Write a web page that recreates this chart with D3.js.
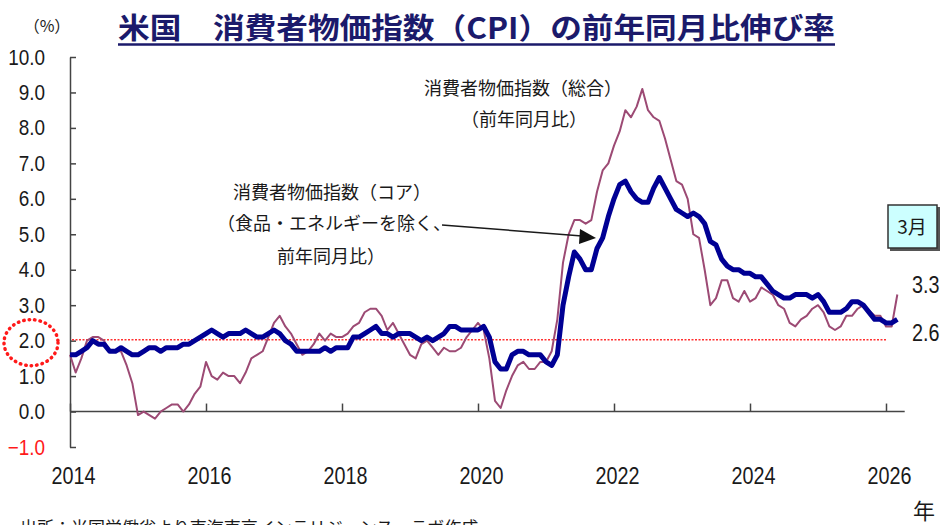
<!DOCTYPE html>
<html>
<head>
<meta charset="utf-8">
<script src="https://cdn.jsdelivr.net/npm/d3@7"></script>
<style>
  body { margin: 0; background: #fff; }
  .num { font-family: "Liberation Sans", Arial, sans-serif; }
  .jp { font-family: "Noto Sans CJK JP", sans-serif; }
</style>
</head>
<body>
<div class="card"></div>
<script>
// months from 2014-01 to 2026-03, Oct 2025 not published
var startYear = 2014;
var headline = [
  1.6, 1.1, 1.5, 2.0, 2.1, 2.1, 2.0, 1.7, 1.7, 1.7, 1.3, 0.8,
  -0.1, 0.0, -0.1, -0.2, 0.0, 0.1, 0.2, 0.2, 0.0, 0.2, 0.5, 0.7,
  1.4, 1.0, 0.9, 1.1, 1.0, 1.0, 0.8, 1.1, 1.5, 1.6, 1.7, 2.1,
  2.5, 2.7, 2.4, 2.2, 1.9, 1.6, 1.7, 1.9, 2.2, 2.0, 2.2, 2.1,
  2.1, 2.2, 2.4, 2.5, 2.8, 2.9, 2.9, 2.7, 2.3, 2.5, 2.2, 1.9,
  1.6, 1.5, 1.9, 2.0, 1.8, 1.6, 1.8, 1.7, 1.7, 1.8, 2.1, 2.3,
  2.5, 2.3, 1.5, 0.3, 0.1, 0.6, 1.0, 1.3, 1.4, 1.2, 1.2, 1.4,
  1.4, 1.7, 2.6, 4.2, 5.0, 5.4, 5.4, 5.3, 5.4, 6.2, 6.8, 7.0,
  7.5, 7.9, 8.5, 8.3, 8.6, 9.1, 8.5, 8.3, 8.2, 7.7, 7.1, 6.5,
  6.4, 6.0, 5.0, 4.9, 4.0, 3.0, 3.2, 3.7, 3.7, 3.2, 3.1, 3.4,
  3.1, 3.2, 3.5, 3.4, 3.3, 3.0, 2.9, 2.5, 2.4, 2.6, 2.7, 2.9,
  3.0, 2.8, 2.4, 2.3, 2.4, 2.7, 2.7, 2.9, 3.0, null, 2.7, 2.7,
  2.4, 2.4, 3.3
];
var core = [
  1.6, 1.6, 1.7, 1.8, 2.0, 1.9, 1.9, 1.7, 1.7, 1.8, 1.7, 1.6,
  1.6, 1.7, 1.8, 1.8, 1.7, 1.8, 1.8, 1.8, 1.9, 1.9, 2.0, 2.1,
  2.2, 2.3, 2.2, 2.1, 2.2, 2.2, 2.2, 2.3, 2.2, 2.1, 2.1, 2.2,
  2.3, 2.2, 2.0, 1.9, 1.7, 1.7, 1.7, 1.7, 1.7, 1.8, 1.7, 1.8,
  1.8, 1.8, 2.1, 2.1, 2.2, 2.3, 2.4, 2.2, 2.2, 2.1, 2.2, 2.2,
  2.2, 2.1, 2.0, 2.1, 2.0, 2.1, 2.2, 2.4, 2.4, 2.3, 2.3, 2.3,
  2.3, 2.4, 2.1, 1.4, 1.2, 1.2, 1.6, 1.7, 1.7, 1.6, 1.6, 1.6,
  1.4, 1.3, 1.6, 3.0, 3.8, 4.5, 4.3, 4.0, 4.0, 4.6, 4.9, 5.5,
  6.0, 6.4, 6.5, 6.2, 6.0, 5.9, 5.9, 6.3, 6.6, 6.3, 6.0, 5.7,
  5.6, 5.5, 5.6, 5.5, 5.3, 4.8, 4.7, 4.3, 4.1, 4.0, 4.0, 3.9,
  3.9, 3.8, 3.8, 3.6, 3.4, 3.3, 3.2, 3.2, 3.3, 3.3, 3.3, 3.2,
  3.3, 3.1, 2.8, 2.8, 2.8, 2.9, 3.1, 3.1, 3.0, null, 2.6, 2.6,
  2.5, 2.5, 2.6
];
var yTicks = [-1, 0, 1, 2, 3, 4, 5, 6, 7, 8, 9, 10];
var yearTicks = [2014, 2016, 2018, 2020, 2022, 2024, 2026];
var target = 2.0;

var width = 941,
    height = 525,
    squeeze = 0.86; // numbers in the original are set in a narrow face

var svg = d3.select(".card").append("svg")
    .attr("width", width)
    .attr("height", height);

// month index -> px
var x = d3.scaleLinear().domain([0, 144]).range([70, 886]);
var y = d3.scaleLinear().domain([-1, 10]).range([447, 57]);

// title
svg.append("text").attr("class", "jp")
    .attr("x", 47).attr("y", 32)
    .attr("text-anchor", "middle")
    .style("font-size", "16px").attr("fill", "#222")
    .text("（%）");

svg.append("text").attr("class", "jp")
    .attr("x", 118).attr("y", 39)
    .attr("textLength", 717).attr("lengthAdjust", "spacingAndGlyphs")
    .style("font-size", "29px").style("font-weight", "bold")
    .attr("fill", "#1b1a6b")
    .text("米国　消費者物価指数（CPI）の前年同月比伸び率");

svg.append("line")
    .attr("x1", 118).attr("x2", 835)
    .attr("y1", 44.5).attr("y2", 44.5)
    .attr("stroke", "#1b1a6b").attr("stroke-width", 2.5);

// y axis
var yAxis = d3.axisLeft(y)
    .tickValues(yTicks)
    .tickSizeInner(-6)
    .tickSizeOuter(0)
    .tickPadding(25)
    .tickFormat(d3.format(".1f"));

var gy = svg.append("g")
    .attr("transform", "translate(" + x(0) + ",0)")
    .call(yAxis);
gy.select(".domain").attr("stroke", "#444").attr("stroke-width", 1.5);
gy.selectAll(".tick line").attr("stroke", "#444").attr("stroke-width", 1.5);
gy.selectAll(".tick text")
    .attr("class", "num")
    .attr("x", -25 / squeeze)
    .attr("transform", "scale(" + squeeze + ",1)")
    .style("font-size", "22px")
    .attr("fill", function(d) { return d < 0 ? "#ff1a1a" : "#1a1a1a"; })
    .text(function(d) { return d < 0 ? "\u2212" + Math.abs(d).toFixed(1) : d.toFixed(1); });

// x axis on the zero line
var xAxis = d3.axisBottom(x)
    .tickValues(yearTicks.map(function(yr) { return (yr - startYear) * 12; }))
    .tickSizeInner(-8)
    .tickSizeOuter(0)
    .tickPadding(56)
    .tickFormat(function(i) { return startYear + i / 12; });

var gx = svg.append("g")
    .attr("transform", "translate(0," + y(0) + ")")
    .call(xAxis);
gx.select(".domain").remove();
gx.selectAll(".tick line").attr("stroke", "#444").attr("stroke-width", 1.5);
gx.selectAll(".tick text")
    .attr("class", "num")
    .attr("dx", 3 / squeeze)
    .attr("transform", "scale(" + squeeze + ",1)")
    .style("font-size", "23px")
    .attr("fill", "#1a1a1a");

svg.append("line")
    .attr("x1", x(0)).attr("x2", x(147.3))
    .attr("y1", y(0)).attr("y2", y(0))
    .attr("stroke", "#444").attr("stroke-width", 1.5);

// 2% line
svg.append("line")
    .attr("x1", x(0) + 2).attr("x2", x(144))
    .attr("y1", y(target) - 1).attr("y2", y(target) - 1)
    .attr("stroke", "#ff3030").attr("stroke-width", 1.5)
    .attr("stroke-dasharray", "2,1.5");

// dotted ring around 2.0
svg.append("ellipse")
    .attr("cx", 31).attr("cy", y(target) + 2)
    .attr("rx", 27).attr("ry", 23)
    .attr("fill", "none")
    .attr("stroke", "#ff1a1a").attr("stroke-width", 3.5)
    .attr("stroke-linecap", "round")
    .attr("stroke-dasharray", "0.5,5");

// series
var line = d3.line()
    .x(function(d) { return x(d.i); })
    .y(function(d) { return y(d.v); });

var toPoints = function(arr) {
    return arr.map(function(v, i) { return { i: i, v: v }; })
        .filter(function(d) { return d.v != null; });
};

svg.append("path")
    .datum(toPoints(headline))
    .attr("d", line)
    .attr("fill", "none")
    .attr("stroke", "#9c4a74")
    .attr("stroke-width", 2)
    .attr("stroke-linejoin", "round");

svg.append("path")
    .datum(toPoints(core))
    .attr("d", line)
    .attr("fill", "none")
    .attr("stroke", "#000094")
    .attr("stroke-width", 5)
    .attr("stroke-linejoin", "round");

// annotations
var note = function(tx, ty, s) {
    svg.append("text").attr("class", "jp")
        .attr("x", tx).attr("y", ty)
        .attr("text-anchor", "middle")
        .attr("dy", "0.35em")
        .style("font-size", "18px")
        .attr("fill", "#1a1a1a")
        .text(s);
};
note(523, 89, "消費者物価指数（総合）");
note(524, 120, "（前年同月比）");
note(332, 193, "消費者物価指数（コア）");
note(334, 224, "（食品・エネルギーを除く、");
note(331, 257, "前年同月比）");

svg.append("line")
    .attr("x1", 442).attr("y1", 225)
    .attr("x2", 582).attr("y2", 236)
    .attr("stroke", "#1a1a1a").attr("stroke-width", 1.5);
svg.append("path")
    .attr("d", "M596,238L580,229L579,244Z")
    .attr("fill", "#111");

// latest month box
var last = headline.length - 1;
svg.append("rect")
    .attr("x", 890).attr("y", 207).attr("width", 50).attr("height", 44)
    .attr("fill", "#555");
svg.append("rect")
    .attr("x", 888).attr("y", 205).attr("width", 49).attr("height", 43)
    .attr("fill", "#ccffff").attr("stroke", "#333").attr("stroke-width", 1.5);
svg.append("text").attr("class", "jp")
    .attr("x", 912).attr("y", 227).attr("dy", "0.35em")
    .attr("text-anchor", "middle")
    .style("font-size", "19px").attr("fill", "#1a1a1a")
    .text("3月");

var endLabel = function(v, off) {
    svg.append("text").attr("class", "num")
        .attr("x", 912 / squeeze).attr("y", y(v) + off).attr("dy", "0.35em")
        .attr("transform", "scale(" + squeeze + ",1)")
        .style("font-size", "23px").attr("fill", "#1a1a1a")
        .text(v.toFixed(1));
};
endLabel(headline[last], -10);
endLabel(core[last], 14);

svg.append("text").attr("class", "jp")
    .attr("x", 924).attr("y", 519)
    .attr("text-anchor", "middle")
    .style("font-size", "22px").attr("fill", "#1a1a1a")
    .text("年");

svg.append("text").attr("class", "jp")
    .attr("x", 20).attr("y", 534)
    .style("font-size", "17px").attr("fill", "#1a1a1a")
    .text("出所：米国労働省より東海東京インテリジェンス・ラボ作成");
</script>
</body>
</html>
